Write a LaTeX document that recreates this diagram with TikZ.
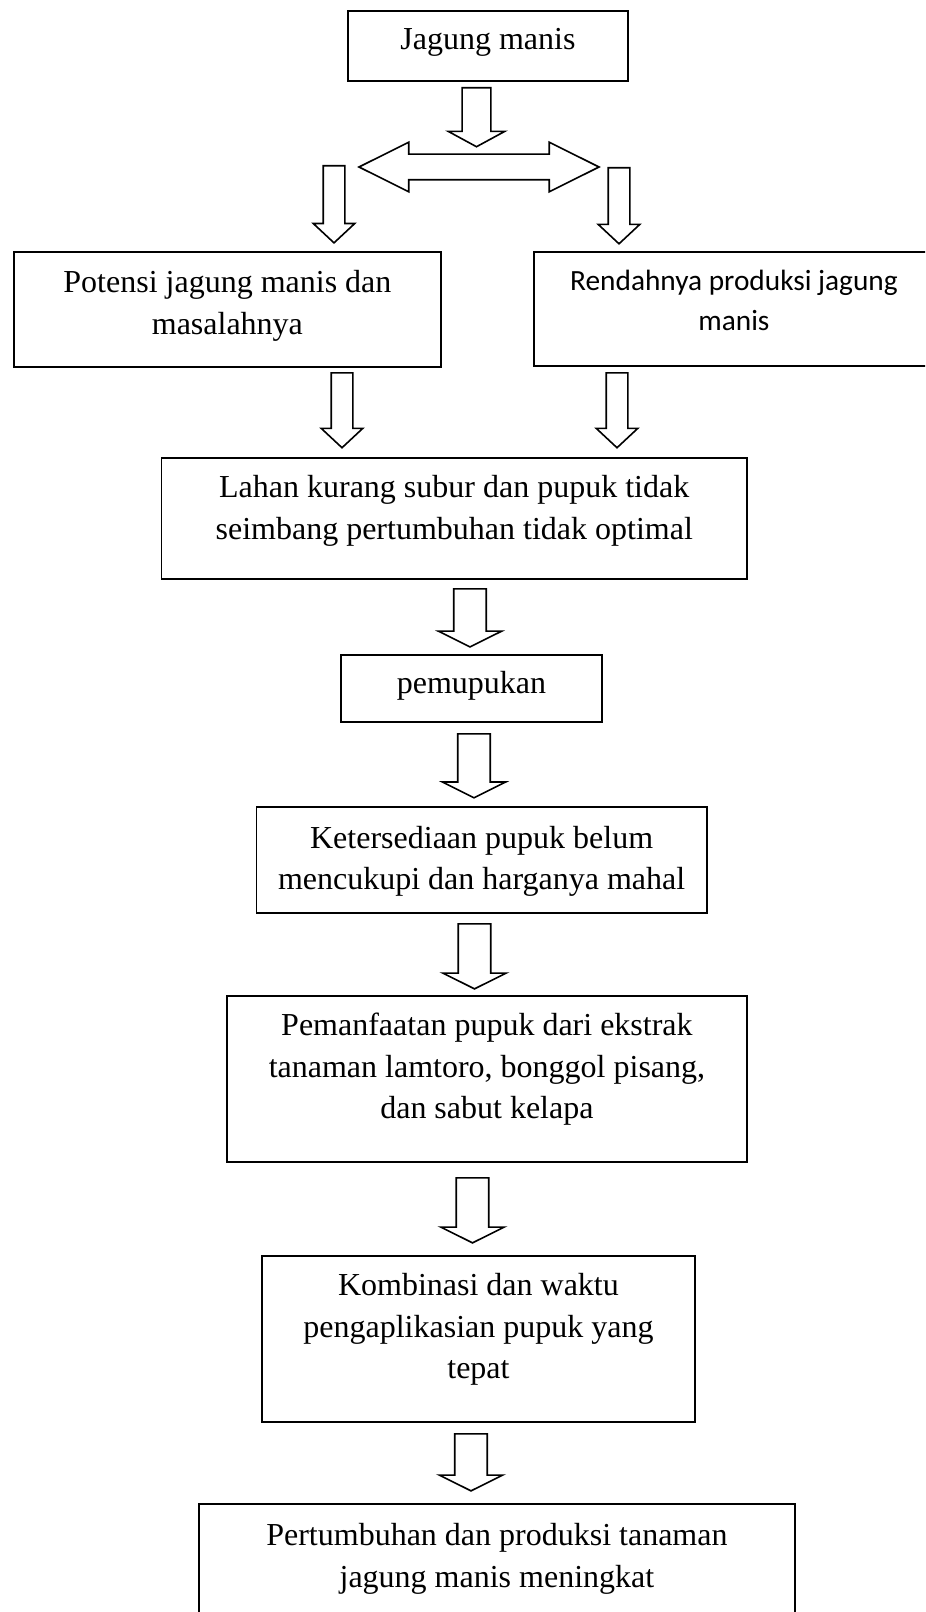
\documentclass[tikz,border=0pt]{standalone}
\usepackage{fontspec}
\setmainfont{Liberation Serif}
\newfontfamily\calibrifont{Carlito}
\usetikzlibrary{shapes.arrows}

\newcommand{\boxtext}[1]{\begin{tabular}[t]{@{}c@{}}#1\end{tabular}}

\tikzset{
  textbox/.style={draw, line width=0.7pt, inner sep=0pt, anchor=north west,
    font=\fontsize{12}{15.5}\selectfont},
  downarrow/.style={draw, line width=0.6pt, single arrow, rotate=-90, anchor=tail,
    inner sep=0pt, single arrow head indent=0pt},
  widearrow/.style={downarrow, inner ysep=5.8pt, single arrow head extend=5.8pt,
    single arrow tip angle=127},
  narrowarrow/.style={downarrow, inner ysep=3.75pt, single arrow head extend=3.75pt,
    single arrow tip angle=94}
}

\begin{document}
\begin{tikzpicture}[x=0.375pt,y=0.375pt,yscale=-1,xscale=1]

\clip (0,0) rectangle (925,1612);

% boxes
\node[textbox, minimum width=105pt, text height=14.6pt, text depth=11.6pt] (jagung) at (347,10) {\boxtext{Jagung manis}};
\node[textbox, minimum width=160.1pt, text height=15.4pt, text depth=27.7pt] (potensi) at (13,251) {\boxtext{Potensi jagung manis dan\\masalahnya}};
\node[textbox, minimum width=150pt, text height=14.6pt, text depth=28.1pt, font=\calibrifont\fontsize{11}{15}\selectfont] (rendah) at (533,251) {\boxtext{Rendahnya produksi jagung\\manis}};
\node[textbox, minimum width=219.6pt, text height=15pt, text depth=30.4pt] (lahan) at (160.5,457) {\boxtext{Lahan kurang subur dan pupuk tidak\\seimbang pertumbuhan tidak optimal}};
\node[textbox, minimum width=97.9pt, text height=14.6pt, text depth=10.5pt] (pupuk) at (340,654) {\boxtext{pemupukan}};
\node[textbox, minimum width=168.9pt, text height=15.4pt, text depth=24.4pt] (sedia) at (255.5,806) {\boxtext{Ketersediaan pupuk belum\\mencukupi dan harganya mahal}};
\node[textbox, minimum width=195pt, text height=15pt, text depth=47.2pt] (manfaat) at (226,995) {\boxtext{Pemanfaatan pupuk dari ekstrak\\tanaman lamtoro, bonggol pisang,\\dan sabut kelapa}};
\node[textbox, minimum width=162.4pt, text height=15pt, text depth=47.2pt] (kombinasi) at (261,1255) {\boxtext{Kombinasi dan waktu\\pengaplikasian pupuk yang\\tepat}};
\node[textbox, minimum width=223.5pt, text height=15.7pt, text depth=39.4pt] (hasil) at (198,1503) {\boxtext{Pertumbuhan dan produksi tanaman\\jagung manis meningkat}};

% block arrows
\node[downarrow, inner ysep=5.1pt, single arrow head extend=5.2pt, single arrow tip angle=123, minimum height=22.1pt] (a1) at (476.5,87) {};
\node[draw, line width=0.6pt, double arrow, inner sep=0pt, inner ysep=4.5pt, double arrow head extend=4.5pt,
  double arrow tip angle=53, double arrow head indent=0pt, minimum height=90pt] (a2) at (479,167) {};
\node[narrowarrow, minimum height=28.9pt] (a3) at (334,165) {};
\node[narrowarrow, minimum height=28.5pt] (a4) at (619,167) {};
\node[narrowarrow, minimum height=28.1pt] (a5) at (342,372) {};
\node[narrowarrow, minimum height=28.1pt] (a6) at (617,372) {};
\node[widearrow, minimum height=21.8pt] (a7) at (470,588) {};
\node[widearrow, minimum height=24pt] (a8) at (474,733) {};
\node[widearrow, minimum height=24.4pt] (a9) at (474.5,923) {};
\node[widearrow, minimum height=24.4pt] (a10) at (472.5,1177) {};
\node[widearrow, minimum height=21.4pt] (a11) at (471,1433) {};

\end{tikzpicture}
\end{document}
